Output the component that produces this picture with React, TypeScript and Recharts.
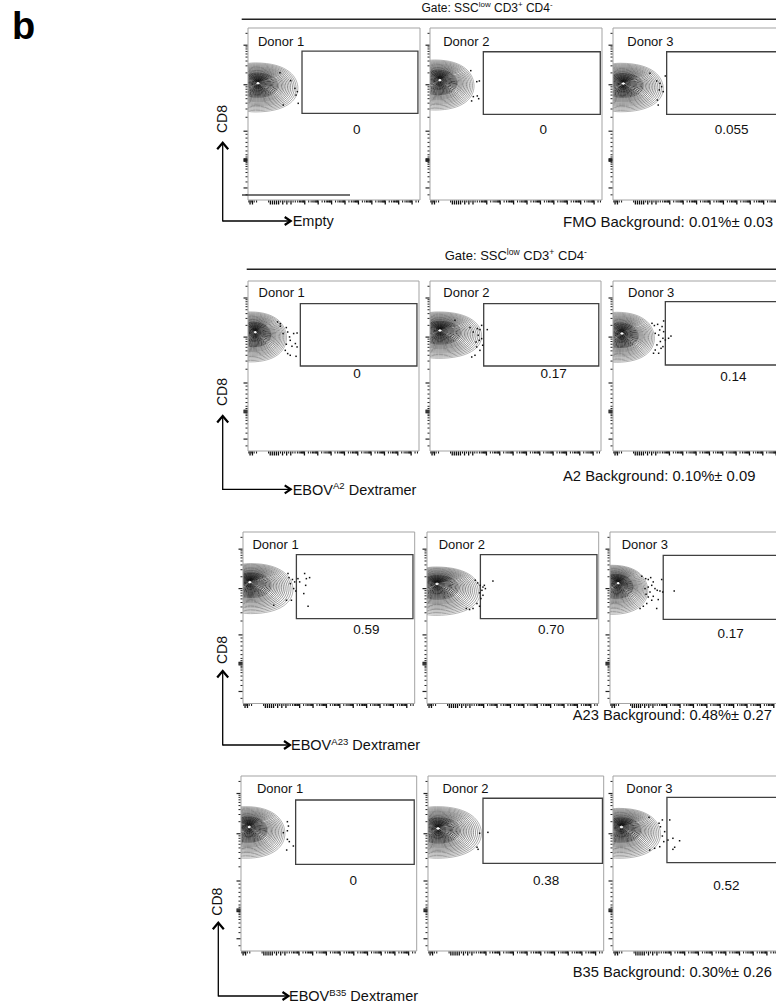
import React from 'react';
import { ScatterChart, Scatter, XAxis, YAxis, ReferenceArea, ReferenceLine } from 'recharts';

// ---------- data ----------
const donors = ['Donor 1', 'Donor 2', 'Donor 3'];
const stainBase = ['Empty', 'EBOV', 'EBOV', 'EBOV'];
const stainSup = ['', 'A2', 'A23', 'B35'];
const stainRest = ['', ' Dextramer', ' Dextramer', ' Dextramer'];
const backgrounds = [
  'FMO Background: 0.01%\u00b1 0.03',
  'A2 Background: 0.10%\u00b1 0.09',
  'A23 Background: 0.48%\u00b1 0.27',
  'B35 Background: 0.30%\u00b1 0.26',
];
const gateValues = [
  ['0', '0', '0.055'],
  ['0', '0.17', '0.14'],
  ['0.59', '0.70', '0.17'],
  ['0', '0.38', '0.52'],
];
// gate label anchor (display-scale units)
const gateLabelX = [
  [63.2, 65.9, 69],
  [63.7, 72.3, 70.4],
  [71.9, 72.3, 70.3],
  [63.9, 67.3, 64.5],
];
const gateLabelY = [
  [40.7, 40.7, 40.7],
  [45.5, 45.5, 44],
  [43.1, 43.3, 40.8],
  [40.2, 40.2, 37.7],
];
// gates [x1, x2, y1, y2]
const gates = [
  [[31.4, 98.8, 50.4, 86.6], [31, 99, 49.8, 86.2], [31.2, 99, 49.8, 86.2]],
  [[30.6, 98.8, 50, 86.7], [31.4, 98.7, 50, 86.7], [30.6, 98.8, 50.6, 87.9]],
  [[31.1, 99, 49.5, 86.8], [31.1, 99, 49.5, 86.8], [31, 99, 49.1, 86.4]],
  [[31.1, 98.6, 49.5, 86.3], [31.3, 99.3, 50.1, 87.3], [30.7, 99, 50.5, 87.8]],
];
const donorLabelX = [
  [5.8, 7.7, 8.3],
  [6.2, 7.8, 8.8],
  [5.5, 6.8, 6.8],
  [9.1, 8.2, 7.6],
];
const donorLabelY = [92.4, 93.5, 92.6, 93];

// contour population: [coreX, coreY, left, right, top, bottom]
const contours = [
  [[5.8, 68, -16, 29, 79.7, 51.2], [5.8, 69.8, -16, 25.6, 81.4, 52.3], [6, 67.8, -16, 29.2, 79.5, 51.3]],
  [[4.3, 70, -16, 22.5, 81.8, 52.4], [5.8, 71, -16, 30.2, 81.8, 54.5], [5.3, 69.2, -16, 24.2, 81.6, 52.2]],
  [[3.9, 70.9, -16, 29.1, 81.6, 52.4], [5.8, 69.9, -16, 31, 79.6, 51.4], [4.8, 70.3, -16, 22, 80.6, 52]],
  [[4.7, 71, -16, 25, 82.5, 53], [5.7, 70.1, -16, 30.4, 82.5, 53], [4.8, 71, -16, 27, 81.5, 53]],
];
const contourLevels = [1, 0.955, 0.91, 0.865, 0.82, 0.78, 0.74, 0.7, 0.66, 0.625, 0.59, 0.555, 0.52, 0.49, 0.46, 0.43, 0.4, 0.37, 0.34, 0.315, 0.29, 0.265, 0.24, 0.215, 0.19, 0.17, 0.15, 0.13, 0.11, 0.09, 0.07, 0.05];

// outlier events
const r1d1 = [[18.6, 74.0], [24.8, 69.4], [27.3, 64.9], [28.7, 63.0], [27.9, 61.0], [29.2, 56.2], [20.5, 55.2]];
const r1d2 = [[23.7, 75.2], [27.2, 68.8], [28.7, 69.2], [25.2, 60.1], [27.5, 60.5], [28.3, 58.9], [24.2, 57.6]];
const r1d3 = [[21.5, 73.7], [25.4, 69.2], [27.3, 67.8], [28.3, 65.9], [26.9, 64.0], [29.2, 63.0], [25.8, 58.1], [26.3, 55.2], [30.4, 72.1]];
const r2d1 = [[17.3, 75.9], [18.9, 74.9], [22.4, 72.6], [23.2, 70.0], [20.5, 69.1], [24.7, 65.1], [26.7, 69.1], [28.7, 69.4], [27.7, 63.2], [25.7, 61.6], [28.7, 61.2], [21.8, 59.2], [23.2, 57.3], [24.7, 56.3], [28.1, 55.7], [22.4, 62.8], [18.9, 73.4], [24.3, 67.1]];
const r2d2 = [[14.6, 76.9], [23.4, 72.6], [25.3, 70.0], [27.7, 72.0], [29.2, 71.4], [33.5, 71.4], [28.2, 68.1], [30.2, 66.1], [28.8, 65.1], [30.8, 62.2], [27.3, 61.2], [29.2, 59.2], [26.3, 56.3], [24.4, 55.3], [30.2, 73.9], [26.9, 64.1]];
const r2d3 = [[22.8, 75.1], [24.2, 73.8], [26.1, 74.5], [28.7, 73.2], [27.3, 71.2], [29.6, 70.2], [24.7, 69.2], [26.7, 68.2], [29.2, 66.3], [30.6, 65.3], [32.5, 66.3], [33.9, 67.6], [27.7, 64.4], [25.7, 62.4], [29.2, 61.4], [24.7, 59.4], [23.7, 57.5], [26.7, 57.5], [28.1, 60.4], [29.6, 76.5]];
const r3d1 = [[26.2, 75.8], [26.8, 73.4], [28.8, 72.3], [30.1, 70.9], [27.6, 69.9], [32.0, 72.8], [33.0, 70.9], [35.9, 75.8], [36.9, 72.8], [38.8, 73.4], [36.5, 68.9], [35.4, 64.1], [37.9, 56.7], [28.2, 60.2], [25.3, 60.2], [29.5, 67.0], [30.7, 65.6], [17.9, 57.3]];
const r3d2 = [[28.1, 71.9], [29.5, 70.3], [31.0, 68.9], [32.6, 67.9], [33.4, 68.9], [32.0, 66.0], [30.6, 64.5], [32.6, 63.1], [31.4, 61.2], [29.1, 58.3], [26.8, 55.4], [24.8, 54.8], [22.9, 55.4], [30.6, 56.7], [34.0, 67.0], [38.4, 71.4]];
const r3d3 = [[18.5, 74.2], [20.8, 72.8], [22.3, 72.3], [23.7, 73.4], [25.2, 70.9], [24.3, 68.9], [22.3, 67.9], [20.4, 67.0], [26.2, 67.0], [27.5, 66.0], [29.1, 65.6], [30.1, 72.3], [23.3, 65.0], [25.2, 62.5], [22.3, 62.1], [24.3, 60.2], [21.4, 58.3], [19.4, 56.7], [17.5, 55.4], [27.2, 55.4], [30.7, 65.0], [37.4, 65.6], [21.0, 63.7], [28.1, 60.6]];
const r4d1 = [[26.4, 73.9], [27.0, 71.4], [26.4, 68.7], [24.1, 67.6], [26.4, 63.8], [27.5, 62.5], [29.8, 60.0], [26.0, 57.7]];
const r4d2 = [[29.4, 67.3], [34.1, 67.8], [27.9, 59.3], [28.5, 58.1]];
const r4d3 = [[20.5, 76.4], [26.2, 73.0], [28.1, 74.9], [32.3, 74.9], [27.0, 71.0], [29.4, 68.2], [28.1, 65.7], [31.3, 63.4], [34.1, 64.4], [37.9, 63.0], [28.9, 62.5], [26.6, 59.6], [23.7, 58.7], [20.9, 57.7], [35.1, 59.3], [34.1, 58.1]];
const dots = [[r1d1, r1d2, r1d3], [r2d1, r2d2, r2d3], [r3d1, r3d2, r3d3], [r4d1, r4d2, r4d3]];

// axis ticks (display scale)
const yMajorTicks = [7, 22.5, 23, 23.5, 24, 40, 67, 90];
const yMinorTicks = [3, 10.5, 13.5, 16, 18, 19.5, 20.8, 21.7, 25, 26.3, 28.5, 31, 33.5, 36, 38.2, 48.1, 52.9, 56.3, 58.9, 61, 62.8, 64.4, 65.8, 73.9, 78, 80.8, 83.1, 84.9, 86.4, 87.8, 89, 96.9];
const xMajorTicks = [1.2, 2.6, 13, 14.2, 15.4, 16.6, 17.8, 20.2, 22.6, 25, 33, 40.8, 48.6, 56.4, 64.2, 72, 79.8, 87.6, 95.4];
const xBlockMinor = [0.5, 1.9, 3.6, 5, 12, 19, 21.4, 23.8, 26.2];
const xDecadeStarts = [25.2, 33, 40.8, 48.6, 56.4, 64.2, 72, 79.8, 87.6, 95.4];
const xDecadeOffsets = [2.3, 3.7, 4.7, 5.4, 6.1, 6.6, 7.0, 7.4];

// ---------- layout ----------
const rowTop = [28, 281, 532, 776];
const rowH = [172, 170, 171.5, 175];
const rowW = [172, 171, 171.7, 175.7];
const panelLeft = [[248, 430, 613], [247.7, 430, 612.7], [243.3, 426.7, 610], [241, 428.3, 613.3]];
const AX = 6;
const M = { top: 4, right: 4, bottom: 2, left: 2 };
const FONT = '"Liberation Sans", Arial, Helvetica, sans-serif';

const arrowX = [222.7, 222.7, 222.7, 218.3];
const arrowY = [221, 489.3, 745, 996];
const arrowTipY = [141.7, 415, 670, 921.7];
const arrowTipX = [290.7, 290.7, 290, 288.5];
const cd8Y = [119, 392, 650, 901.7];
const stainX = [292.7, 292.7, 291, 289];
const bgX = [563, 563, 572.7, 572.7];
const bgY = [227, 481.3, 720.3, 977];
const bgSize = [15, 14.8, 14.7, 14.7];

const xTicks: number[] = [...xMajorTicks, ...xBlockMinor];
xDecadeStarts.forEach((d) => xDecadeOffsets.forEach((o) => { if (d + o <= 100) xTicks.push(+(d + o).toFixed(2)); }));
xTicks.sort((a, b) => a - b);
const yTicks = [...yMajorTicks, ...yMinorTicks].sort((a, b) => a - b);
const xMajorSet = new Set(xMajorTicks);
const yMajorSet = new Set(yMajorTicks);

const renderXTick = (p: any) => {
  const major = xMajorSet.has(p.payload.value);
  const len = major ? 4 : 2;
  return <line x1={p.x} x2={p.x} y1={p.y + 0.5} y2={p.y + 0.5 + len} stroke="#111" strokeWidth={major ? 1.3 : 1} />;
};
const renderYTick = (p: any) => {
  const major = yMajorSet.has(p.payload.value);
  const len = major ? 4 : 2;
  return <line x1={p.x - 0.5 - len} x2={p.x - 0.5} y1={p.y} y2={p.y} stroke="#222" strokeWidth={major ? 1.2 : 1} />;
};

const Egg = (props: any) => {
  const { x, y, width: w, height: h, clipPath, stroke, strokeWidth } = props;
  if (![x, y, w, h].every((v) => Number.isFinite(v))) return null;
  const cx = x + w * 0.45;
  const r = x + w - cx;
  const l = cx - x;
  const my = y + h * 0.52;
  const d = `M${cx},${y} C${cx + r * 0.78},${y} ${x + w},${y + h * 0.3} ${x + w},${my} C${x + w},${y + h * 0.76} ${cx + r * 0.72},${y + h} ${cx},${y + h} C${cx - l * 0.55},${y + h} ${x},${y + h * 0.78} ${x},${my} C${x},${y + h * 0.22} ${cx - l * 0.55},${y} ${cx},${y} Z`;
  return <path d={d} fill="none" stroke={stroke} strokeWidth={strokeWidth} clipPath={clipPath} />;
};

const contourColor = (i: number) => {
  const n = contourLevels.length - 1;
  const v = Math.round(140 - Math.pow(i / n, 0.5) * 135);
  return `rgb(${v},${v},${v})`;
};

const DotShape = (p: any) => <rect x={p.cx - 0.75} y={p.cy - 0.75} width={1.5} height={1.5} fill="#111" />;
const GateLabelShape = (p: any) => (
  <text x={p.cx} y={p.cy} textAnchor="middle" dominantBaseline="central" fontSize={13.5} fill="#111" fontFamily={FONT}>{p.payload.t}</text>
);
const DonorShape = (p: any) => (
  <text x={p.cx} y={p.cy} textAnchor="start" dominantBaseline="central" fontSize={13} fill="#111" fontFamily={FONT}>{p.payload.t}</text>
);

const Panel = ({ row, col }: { row: number; col: number }) => {
  const L = panelLeft[row][col];
  const T = rowTop[row];
  const W = rowW[row];
  const H = rowH[row];
  const [cx0, cy0, cl, cr, ct, cb] = contours[row][col];
  const g = gates[row][col];
  const pts = dots[row][col].map(([x, y]) => ({ x, y }));
  return (
    <div style={{ position: 'absolute', left: L - M.left - AX, top: T - M.top }}>
      <ScatterChart width={W + M.left + M.right + AX} height={H + M.top + M.bottom + AX} margin={M}>
        <XAxis type="number" dataKey="x" domain={[0, 100]} allowDataOverflow ticks={xTicks} interval={0} tickSize={0} tickMargin={0} axisLine={false} tickLine={false} height={AX} tick={renderXTick} />
        <YAxis type="number" dataKey="y" domain={[0, 100]} allowDataOverflow ticks={yTicks} interval={0} tickSize={0} tickMargin={0} axisLine={false} tickLine={false} width={AX} tick={renderYTick} />
        {contourLevels.map((s, i) => (
          <ReferenceArea
            key={i}
            x1={cx0 + (cl - cx0) * s}
            x2={cx0 + (cr - cx0) * s}
            y1={cy0 + (cb - cy0) * s}
            y2={cy0 + (ct - cy0) * s}
            ifOverflow="hidden"
            fill="none"
            stroke={contourColor(i)}
            strokeWidth={i > 12 ? 0.85 : 0.65}
            shape={Egg}
          />
        ))}
        <ReferenceArea
          x1={cx0 + (cl - cx0) * 0.03}
          x2={cx0 + (cr - cx0) * 0.03}
          y1={cy0 + (cb - cy0) * 0.03}
          y2={cy0 + (ct - cy0) * 0.03}
          ifOverflow="hidden"
          fill="none"
          stroke="#fff"
          strokeWidth={1}
          shape={Egg}
        />
        <ReferenceArea x1={0} x2={100} y1={0} y2={100} fill="none" stroke="#a3a3a3" strokeWidth={1} ifOverflow="visible" />
        <ReferenceArea x1={g[0]} x2={g[1]} y1={g[2]} y2={g[3]} fill="none" stroke="#404040" strokeWidth={1.3} ifOverflow="visible" />
        {row === 0 && col === 0 && (
          <ReferenceLine segment={[{ x: -3.5, y: 2.9 }, { x: 59.3, y: 2.9 }]} stroke="#444" strokeWidth={1.6} ifOverflow="visible" />
        )}
        <Scatter data={pts} shape={DotShape} isAnimationActive={false} />
        <Scatter data={[{ x: gateLabelX[row][col], y: gateLabelY[row][col], t: gateValues[row][col] }]} shape={GateLabelShape} isAnimationActive={false} />
        <Scatter data={[{ x: donorLabelX[row][col], y: donorLabelY[row], t: donors[col] }]} shape={DonorShape} isAnimationActive={false} />
      </ScatterChart>
    </div>
  );
};

const GateHeader = ({ x, y, size }: { x: number; y: number; size: number }) => {
  const s = size * 0.66;
  const up = size * 0.38;
  return (
    <text x={x} y={y} fontSize={size} textAnchor="middle" fill="#111" fontFamily={FONT}>
      Gate: SSC<tspan fontSize={s} dy={-up}>low</tspan>
      <tspan dy={up}> CD3</tspan><tspan fontSize={s} dy={-up}>+</tspan>
      <tspan dy={up}> CD4</tspan><tspan fontSize={s} dy={-up}>-</tspan>
    </text>
  );
};

const Overlay = () => (
  <svg width={776} height={1005} style={{ position: 'absolute', left: 0, top: 0, pointerEvents: 'none' }}>
    <text x={12} y={39} fontSize={38} fontWeight="bold" fill="#000" fontFamily={FONT}>b</text>
    <GateHeader x={487} y={11.6} size={12} />
    <line x1={241.7} x2={776} y1={19.3} y2={19.3} stroke="#222" strokeWidth={1.5} />
    <GateHeader x={515.8} y={259.7} size={13} />
    <line x1={246.7} x2={776} y1={269.3} y2={269.3} stroke="#222" strokeWidth={1.5} />
    {arrowX.map((ax, r) => {
      const ay = arrowY[r];
      const tipY = arrowTipY[r];
      const tipX = arrowTipX[r];
      const fs = 14.5;
      return (
        <g key={r}>
          <line x1={ax} x2={ax} y1={ay + 0.6} y2={tipY + 1} stroke="#000" strokeWidth={1.3} />
          <line x1={ax} x2={tipX - 1} y1={ay} y2={ay} stroke="#000" strokeWidth={1.3} />
          <polyline points={`${ax - 5.5},${tipY + 7.5} ${ax},${tipY + 1} ${ax + 5.5},${tipY + 7.5}`} fill="none" stroke="#000" strokeWidth={2.2} />
          <polyline points={`${tipX - 6},${ay - 4} ${tipX},${ay} ${tipX - 6},${ay + 4}`} fill="none" stroke="#000" strokeWidth={2.2} />
          <text transform={`translate(${ax - 1},${cd8Y[r]}) rotate(-90)`} textAnchor="middle" dominantBaseline="central" fontSize={14} fill="#111" fontFamily={FONT}>CD8</text>
          <text x={stainX[r]} y={ay + 5.2} fontSize={fs} fill="#111" fontFamily={FONT}>
            {stainBase[r]}
            {stainSup[r] && <tspan fontSize={fs * 0.66} dy={-fs * 0.38}>{stainSup[r]}</tspan>}
            {stainRest[r] && <tspan dy={fs * 0.38}>{stainRest[r]}</tspan>}
          </text>
          <text x={bgX[r]} y={bgY[r]} fontSize={bgSize[r]} fill="#111" fontFamily={FONT}>{backgrounds[r]}</text>
        </g>
      );
    })}
  </svg>
);

export default function App() {
  return (
    <div style={{ position: 'absolute', left: 0, top: 0, width: 776, height: 1005, overflow: 'hidden', background: '#fff', fontFamily: FONT }}>
      {[0, 1, 2, 3].map((r) => [0, 1, 2].map((c) => <Panel key={`${r}-${c}`} row={r} col={c} />))}
      <Overlay />
    </div>
  );
}
